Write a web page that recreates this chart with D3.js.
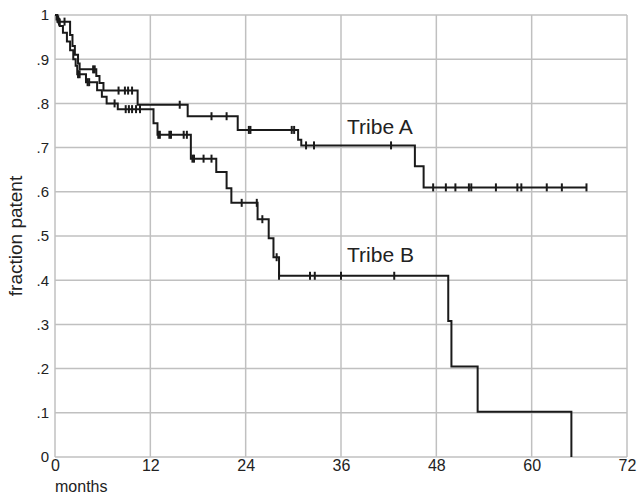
<!DOCTYPE html>
<html>
<head>
<meta charset="utf-8">
<script src="https://cdn.jsdelivr.net/npm/d3@7"></script>
<style>
body{margin:0;background:#fff;}
text{font-family:"Liberation Sans",Arial,sans-serif;fill:#222;}
</style>
</head>
<body>
<script>
// kaplan-meier style curves, months vs fraction patent
var monthTicks = [0,12,24,36,48,60,72];
var fracTicks = [0,.1,.2,.3,.4,.5,.6,.7,.8,.9,1];

var tribeATimes = [0,0.3,1.9,2.2,2.5,2.9,3.1,5.2,5.6,6.1,10.4,16.7,23.0,30.6,31.0,45.3,46.4,66.9];
var tribeASurv  = [1,0.985,0.955,0.93,0.91,0.89,0.877,0.862,0.846,0.829,0.797,0.771,0.740,0.718,0.705,0.658,0.610,0.610];
var tribeACens  = [0.5,1.2,4.8,5.0,8.0,8.8,9.2,9.7,15.7,19.7,21.6,24.4,24.6,29.8,30.1,31.6,32.6,42.3,47.6,49.2,50.4,52.1,52.4,55.5,58.2,58.7,61.9,63.8,66.9];

var tribeBTimes = [0,0.2,0.6,1.0,1.5,1.9,2.3,2.6,2.8,3.9,5.3,5.9,6.5,7.9,12.4,12.9,17.1,20.3,21.6,22.2,25.5,26.9,27.5,28.2,49.5,49.9,53.2,65.0];
var tribeBSurv  = [1,0.99,0.975,0.96,0.94,0.92,0.90,0.885,0.866,0.848,0.83,0.815,0.80,0.787,0.755,0.729,0.675,0.645,0.608,0.575,0.538,0.495,0.452,0.41,0.3075,0.205,0.1025,0];
var tribeBCens  = [0.4,2.9,3.1,4.1,4.3,7.5,8.9,9.3,9.7,10.2,10.7,13.0,13.2,14.4,14.6,16.2,16.6,17.3,17.5,18.7,19.7,23.5,25.4,26.1,27.9,28.2,32.1,32.7,36.0,42.7];

var width = 639, height = 497;
var x = d3.scaleLinear().domain([0,72]).range([55,627]);
var y = d3.scaleLinear().domain([0,1]).range([457,15]);

var svg = d3.select("body").append("svg").attr("width",width).attr("height",height);

// grid
var grid = svg.append("g");
grid.selectAll(".vgrid").data(monthTicks).enter().append("line").attr("class","vgrid")
	.attr("x1",function(d){return x(d);}).attr("x2",function(d){return x(d);})
	.attr("y1",y(0)).attr("y2",y(1)).attr("stroke","#c0c0c0").attr("stroke-width",1.5);
grid.selectAll(".hgrid").data(fracTicks).enter().append("line").attr("class","hgrid")
	.attr("y1",function(d){return y(d);}).attr("y2",function(d){return y(d);})
	.attr("x1",x(0)).attr("x2",x(72)).attr("stroke","#c0c0c0").attr("stroke-width",1.5);

// axes (labels only)
var fmtY = function(d){ return d===0?"0":(d===1?"1":d3.format(".1f")(d).replace(/^0/,"")); };
var yAxis = svg.append("g").attr("transform","translate("+x(0)+",0)")
	.call(d3.axisLeft(y).tickValues(fracTicks).tickFormat(fmtY).tickSize(0).tickPadding(6));
yAxis.select(".domain").remove();
yAxis.selectAll("text").attr("font-size","15px").attr("fill","#222");

var xAxis = svg.append("g").attr("transform","translate(0,"+y(0)+")")
	.call(d3.axisBottom(x).tickValues(monthTicks).tickFormat(d3.format("d")).tickSize(0).tickPadding(3));
xAxis.select(".domain").remove();
xAxis.selectAll("text").attr("font-size","16px").attr("fill","#222");

svg.append("text").attr("x",x(0)).attr("y",492).attr("font-size","16px").text("months");
svg.append("text").attr("transform","translate(22,"+y(0.5)+") rotate(-90)")
	.attr("text-anchor","middle").attr("font-size","19px").text("fraction patent");

// curves
function survAt(times, surv, t){
	var i = d3.bisectRight(times, t) - 1;
	return surv[Math.max(0,i)];
}
var stepLine = d3.line().x(function(d){return x(d[0]);}).y(function(d){return y(d[1]);}).curve(d3.curveStepAfter);

function drawCurve(times, surv, cens){
	var pts = d3.zip(times, surv);
	svg.append("path").attr("d",stepLine(pts)).attr("fill","none").attr("stroke","#1a1a1a").attr("stroke-width",2);
	svg.selectAll(null).data(cens).enter().append("line")
		.attr("x1",function(d){return x(d);}).attr("x2",function(d){return x(d);})
		.attr("y1",function(d){return y(survAt(times,surv,d))-4;})
		.attr("y2",function(d){return y(survAt(times,surv,d))+4;})
		.attr("stroke","#1a1a1a").attr("stroke-width",2);
}
drawCurve(tribeATimes, tribeASurv, tribeACens);
drawCurve(tribeBTimes, tribeBSurv, tribeBCens);

svg.append("text").attr("x",347).attr("y",134).attr("font-size","21px").text("Tribe A");
svg.append("text").attr("x",347).attr("y",262).attr("font-size","21px").text("Tribe B");
</script>
</body>
</html>
